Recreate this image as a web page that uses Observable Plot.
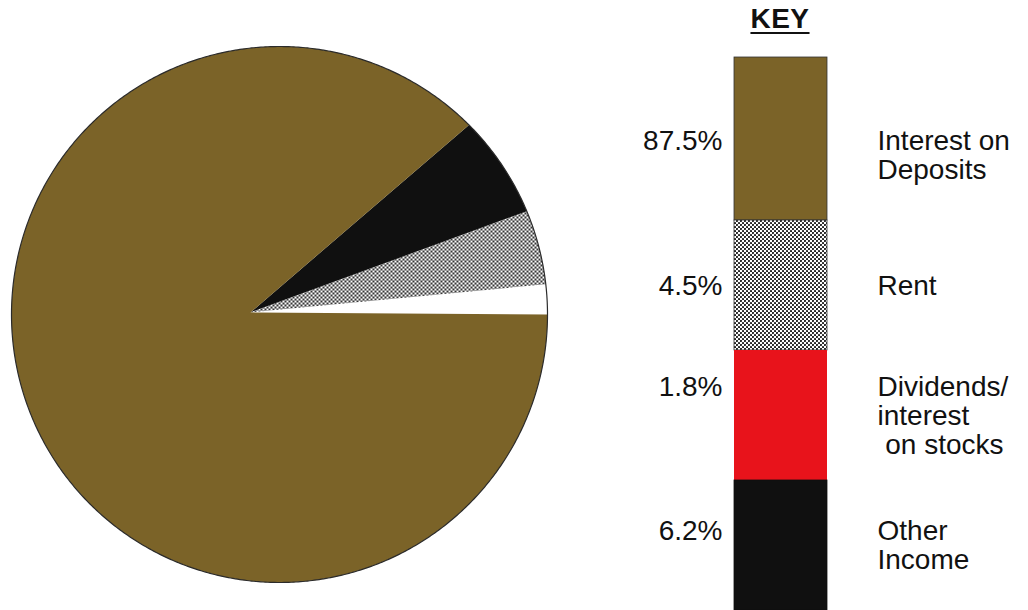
<!DOCTYPE html>
<html>
<head>
<meta charset="utf-8">
<script src="https://cdn.jsdelivr.net/npm/d3@7"></script>
<script src="https://cdn.jsdelivr.net/npm/@observablehq/plot@0.6"></script>
<style>
  html, body { margin: 0; padding: 0; background: #fff; }
  #chart { position: relative; width: 1028px; height: 610px; overflow: hidden;
           font-family: "Liberation Sans", Arial, sans-serif; }
  #pie { position: absolute; left: 0; top: 0; }
  #key { position: absolute; left: 620px; top: 0; }
  #key-title { position: absolute; left: 733px; width: 94px; top: 3px; line-height: 32px;
               text-align: center; font-weight: bold; font-size: 28px; letter-spacing: 0.5px;
               color: #111; text-decoration: underline; text-decoration-thickness: 2px;
               text-underline-offset: 4px; }
</style>
</head>
<body>
<svg width="0" height="0" style="position:absolute">
  <defs>
    <pattern id="rent-dots" width="4" height="4" patternUnits="userSpaceOnUse">
      <rect width="4" height="4" fill="#fff"></rect>
      <circle cx="1" cy="1" r="1.05" fill="#151515"></circle>
      <circle cx="3" cy="3" r="1.05" fill="#151515"></circle>
    </pattern>
  </defs>
</svg>
<div id="chart">
  <div id="pie"></div>
  <div id="key"></div>
  <div id="key-title">KEY</div>
</div>
<script>
// Sources of income, percent of total
const categories = ["Interest on Deposits", "Rent", "Dividends/interest on stocks", "Other Income"];
const shares = [87.5, 4.5, 1.8, 6.2];
const pctLabels = ["87.5%", "4.5%", "1.8%", "6.2%"];
const keyNames = ["Interest on\nDeposits", "Rent", "Dividends/\ninterest\n\u00a0on stocks", "Other\nIncome"];

// Slice order, counter-clockwise from 3 o'clock
const pieOrder = ["Dividends/interest on stocks", "Rent", "Other Income", "Interest on Deposits"];

// Fills
const BROWN = "#7b6328";
const pieFill = {
  "Interest on Deposits": BROWN,
  "Rent": "url(#rent-dots)",
  "Dividends/interest on stocks": "#ffffff",
  "Other Income": "#101010"
};
const keyFill = {
  "Interest on Deposits": BROWN,
  "Rent": "url(#rent-dots)",
  "Dividends/interest on stocks": "#e8131b",
  "Other Income": "#101010"
};
const keyStroke = {
  "Interest on Deposits": "#333",
  "Rent": "#333",
  "Dividends/interest on stocks": "none",
  "Other Income": "#101010"
};

// ---- Pie ----
const W = 560, H = 610, R = 268, CX = 279, CY = 314;   // pixel layout of the disc
const apex = [-0.108, 0.008];                           // wedges meet a little left of centre (unit radii)
const share = Object.fromEntries(categories.map((c, i) => [c, shares[i]]));

const slicePoints = [];
let a = 0;
for (const cat of pieOrder) {
  const a0 = a, a1 = a + share[cat] / 100 * 2 * Math.PI;
  a = a1;
  slicePoints.push({cat, x: apex[0], y: apex[1]});
  const n = Math.max(2, Math.ceil((a1 - a0) / (Math.PI / 360)));
  for (let k = 0; k <= n; ++k) {
    const t = a0 + (a1 - a0) * k / n;
    slicePoints.push({cat, x: Math.cos(t), y: Math.sin(t)});
  }
}
const rim = d3.range(0, 721).map(k => ({x: Math.cos(k * Math.PI / 360), y: Math.sin(k * Math.PI / 360)}));

const pie = Plot.plot({
  width: W, height: H,
  margin: 0,
  x: {domain: [-CX / R, (W - CX) / R], axis: null},
  y: {domain: [-(H - CY) / R, CY / R], axis: null},
  color: {type: "identity"},
  style: {background: "transparent"},
  marks: [
    Plot.line(slicePoints, {x: "x", y: "y", z: "cat", fill: d => pieFill[d.cat], stroke: null, curve: "linear-closed"}),
    Plot.line(rim, {x: "x", y: "y", stroke: "#2b2b2b", strokeWidth: 1.2, curve: "linear-closed"})
  ]
});
document.getElementById("pie").append(pie);

// ---- Key ----
const nLines = s => s.split("\n").length;
const keyRows = categories.map((cat, i) => ({
  cat,
  name: keyNames[i],
  pct: pctLabels[i] + "\n".repeat(nLines(keyNames[i]) - 1)
}));

const NAME_SIZE = 28, NAME_LH = 1.04, PCT_SIZE = 28;
const key = Plot.plot({
  width: 408, height: 610,
  marginLeft: 114, marginRight: 201, marginTop: 90, marginBottom: 0,
  x: {domain: [0, 1], axis: null},
  y: {type: "band", domain: categories, padding: 0, axis: null},
  color: {type: "identity"},
  style: {background: "transparent", overflow: "visible", fontFamily: "'Liberation Sans', Arial, sans-serif"},
  marks: [
    Plot.barX(keyRows.slice(0, 1), {x1: 0, x2: 1, y: "cat", fill: d => keyFill[d.cat], stroke: d => keyStroke[d.cat], strokeWidth: 0.8, insetTop: -33}),
    Plot.barX(keyRows.slice(1), {x1: 0, x2: 1, y: "cat", fill: d => keyFill[d.cat], stroke: d => keyStroke[d.cat], strokeWidth: 0.8}),
    Plot.text(keyRows, {x: 0, y: "cat", text: "pct", textAnchor: "end", dx: -12,
      fontSize: PCT_SIZE, lineHeight: NAME_SIZE * NAME_LH / PCT_SIZE, fill: "#111"}),
    Plot.text(keyRows, {x: 1, y: "cat", text: "name", textAnchor: "start", dx: 50,
      fontSize: NAME_SIZE, lineHeight: NAME_LH, fill: "#111"})
  ]
});
document.getElementById("key").append(key);
</script>
</body>
</html>
